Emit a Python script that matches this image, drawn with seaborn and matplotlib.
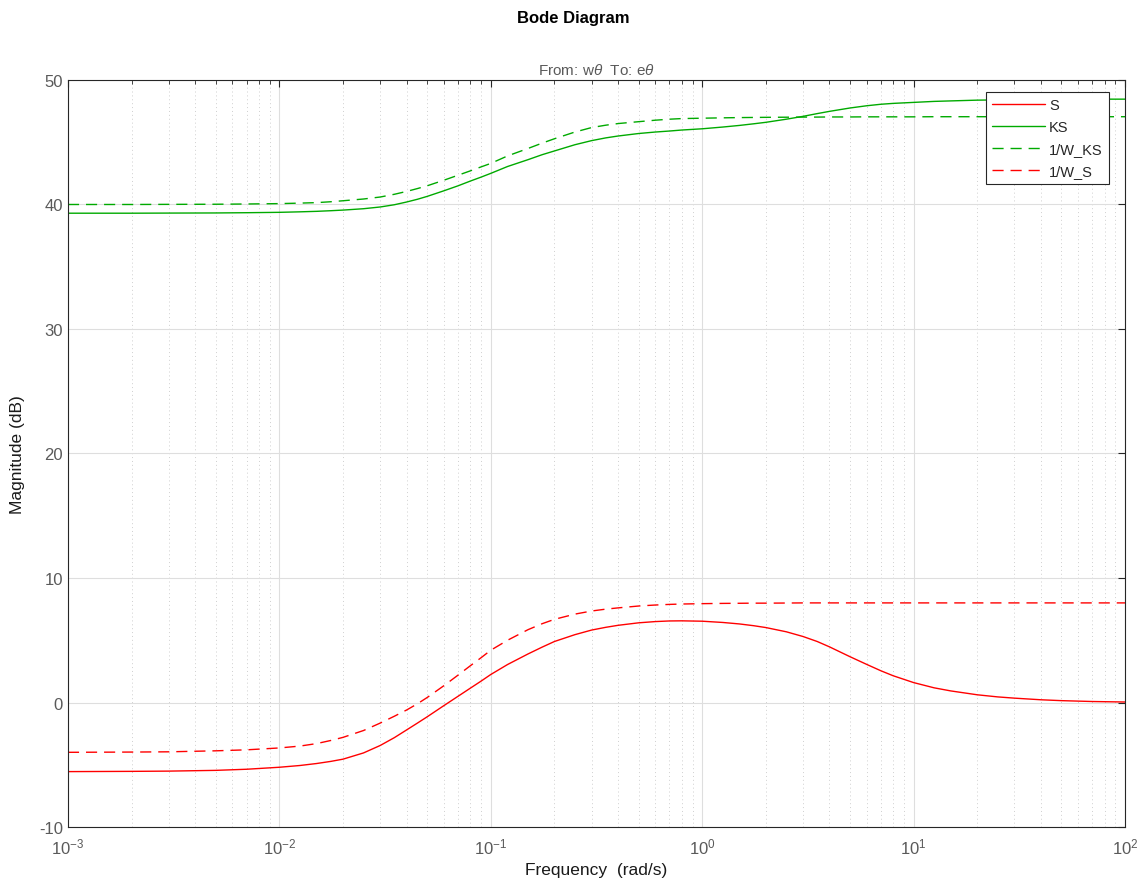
import numpy as np
import pandas as pd
import matplotlib
matplotlib.use("Agg")
import matplotlib.pyplot as plt
import seaborn as sns
from matplotlib.ticker import LogLocator, LogFormatterMathtext, NullFormatter, MultipleLocator

# Frequency grid (rad/s) and magnitude responses (dB)
freq_s = [0.001, 0.002, 0.003, 0.005, 0.007, 0.01, 0.0125, 0.015, 0.0175, 0.02,
          0.025, 0.03, 0.035, 0.04, 0.045, 0.05, 0.06, 0.07, 0.08, 0.09,
          0.1, 0.12, 0.15, 0.175, 0.2, 0.25, 0.3, 0.35, 0.4, 0.5,
          0.6, 0.7, 0.8, 1.0, 1.25, 1.5, 1.75, 2.0, 2.5, 3.0,
          3.5, 4.0, 5.0, 6.0, 7.0, 8.0, 10.0, 12.5, 15.0, 20.0,
          25.0, 30.0, 40.0, 50.0, 70.0, 100.0]
mag_S = [-5.55, -5.53, -5.51, -5.45, -5.36, -5.2, -5.06, -4.9, -4.73, -4.55,
         -4.05, -3.45, -2.82, -2.2, -1.65, -1.15, -0.25, 0.5, 1.15, 1.72,
         2.25, 3.05, 3.9, 4.45, 4.9, 5.45, 5.82, 6.04, 6.2, 6.4,
         6.5, 6.55, 6.56, 6.53, 6.43, 6.31, 6.17, 6.02, 5.68, 5.3,
         4.9, 4.47, 3.68, 3.06, 2.55, 2.15, 1.6, 1.18, 0.93, 0.62,
         0.45, 0.35, 0.22, 0.15, 0.08, 0.04]
mag_KS = [39.3, 39.3, 39.31, 39.32, 39.34, 39.37, 39.41, 39.45, 39.5, 39.55,
          39.66, 39.8, 39.98, 40.2, 40.42, 40.65, 41.1, 41.5, 41.88, 42.2,
          42.5, 43.05, 43.6, 44.0, 44.3, 44.8, 45.13, 45.35, 45.5, 45.7,
          45.82, 45.9, 45.98, 46.08, 46.22, 46.35, 46.48, 46.6, 46.85, 47.08,
          47.3, 47.48, 47.75, 47.93, 48.05, 48.12, 48.2, 48.28, 48.32, 48.38,
          48.4, 48.42, 48.44, 48.45, 48.46, 48.46]
mag_invWKS = [40.0, 40.0, 40.01, 40.02, 40.04, 40.07, 40.11, 40.15, 40.22, 40.3,
              40.44, 40.6, 40.82, 41.05, 41.28, 41.5, 41.95, 42.35, 42.7, 43.02,
              43.3, 43.9, 44.5, 44.93, 45.28, 45.82, 46.18, 46.37, 46.5, 46.65,
              46.77, 46.85, 46.9, 46.93, 46.96, 46.98, 46.99, 47.0, 47.01, 47.02,
              47.02, 47.03, 47.03, 47.04, 47.04, 47.04, 47.04, 47.05, 47.05, 47.05,
              47.05, 47.05, 47.05, 47.05, 47.05, 47.05]
mag_invWS = [-4.0, -3.98, -3.96, -3.88, -3.8, -3.65, -3.5, -3.3, -3.05, -2.8,
             -2.25, -1.65, -1.1, -0.6, -0.1, 0.4, 1.35, 2.2, 2.95, 3.6,
             4.2, 5.0, 5.85, 6.33, 6.68, 7.1, 7.35, 7.5, 7.6, 7.75,
             7.83, 7.88, 7.91, 7.94, 7.96, 7.97, 7.98, 7.98, 7.99, 8.0,
             8.0, 8.0, 8.0, 8.0, 8.0, 8.0, 8.0, 8.0, 8.0, 8.0,
             8.0, 8.0, 8.0, 8.0, 8.0, 8.0]

series_names = ["S", "KS", "1/W_KS", "1/W_S"]
series_values = [mag_S, mag_KS, mag_invWKS, mag_invWS]

RED = "#ff0000"
GREEN = "#00aa00"
styles = {
    "S": dict(color=RED, linestyle="-"),
    "KS": dict(color=GREEN, linestyle="-"),
    "1/W_KS": dict(color=GREEN, linestyle=(0, (8, 5))),
    "1/W_S": dict(color=RED, linestyle=(0, (8, 5))),
}

df = pd.concat(
    [pd.DataFrame({"freq": freq_s, "mag": vals, "name": name})
     for name, vals in zip(series_names, series_values)],
    ignore_index=True,
)

sns.set_style("white")
plt.rcParams["font.family"] = ["Liberation Sans", "DejaVu Sans"]
plt.rcParams["mathtext.fontset"] = "custom"
plt.rcParams["mathtext.rm"] = "Liberation Sans"
plt.rcParams["mathtext.it"] = "Liberation Sans:italic"
plt.rcParams["axes.unicode_minus"] = False

AX_GREY = "#262626"
LABEL_GREY = "#5a5a5a"

fig = plt.figure(figsize=(11.46, 8.87), dpi=100)
ax = fig.add_axes([0.0593, 0.0665, 0.9224, 0.8422])

for name in series_names:
    sub = df[df["name"] == name]
    sns.lineplot(data=sub, x="freq", y="mag", ax=ax, label=name, linewidth=1.0,
                 estimator=None, sort=False, **styles[name])

ax.set_xscale("log")
ax.set_xlim(1e-3, 1e2)
ax.set_ylim(-10, 50)
ax.yaxis.set_major_locator(MultipleLocator(10))
ax.xaxis.set_major_locator(LogLocator(base=10, numticks=10))
ax.xaxis.set_minor_locator(LogLocator(base=10, subs=np.arange(2, 10), numticks=20))
ax.xaxis.set_major_formatter(LogFormatterMathtext())
ax.xaxis.set_minor_formatter(NullFormatter())

ax.grid(True, which="major", color="#dedede", linewidth=0.8, linestyle="-")
ax.grid(True, which="minor", axis="x", color="#cfcfcf", linewidth=0.7, linestyle=(0, (1, 3)))
ax.set_axisbelow(True)

for sp in ax.spines.values():
    sp.set_color(AX_GREY)
    sp.set_linewidth(0.8)
    sp.set_visible(True)

ax.tick_params(which="both", direction="in", top=True, right=True, colors=AX_GREY,
               labelcolor=LABEL_GREY, labelsize=12)
ax.tick_params(which="major", length=5, width=0.8)
ax.tick_params(which="minor", length=3, width=0.6)
ax.tick_params(axis="x", which="major", pad=7)

ax.set_xlabel("Frequency  (rad/s)", fontsize=12.5, color="#1a1a1a", labelpad=4)
ax.set_ylabel("Magnitude (dB)", fontsize=12.5, color="#1a1a1a", labelpad=10)
ax.set_title(r"From: w$\theta$  To: e$\theta$", fontsize=11, color=LABEL_GREY, pad=4)
fig.text(0.5, 0.988, "Bode Diagram", ha="center", va="top", fontsize=12,
         fontweight="bold", color="black")

leg = ax.legend(loc="upper right", bbox_to_anchor=(0.9845, 0.984), fontsize=10.5,
                handlelength=3.6, handletextpad=0.3, labelspacing=0.55,
                borderpad=0.4, fancybox=False, framealpha=1.0, borderaxespad=0.0)
leg.get_frame().set_edgecolor(AX_GREY)
leg.get_frame().set_linewidth(0.8)

fig.savefig("out.png", dpi=100, facecolor="white")
